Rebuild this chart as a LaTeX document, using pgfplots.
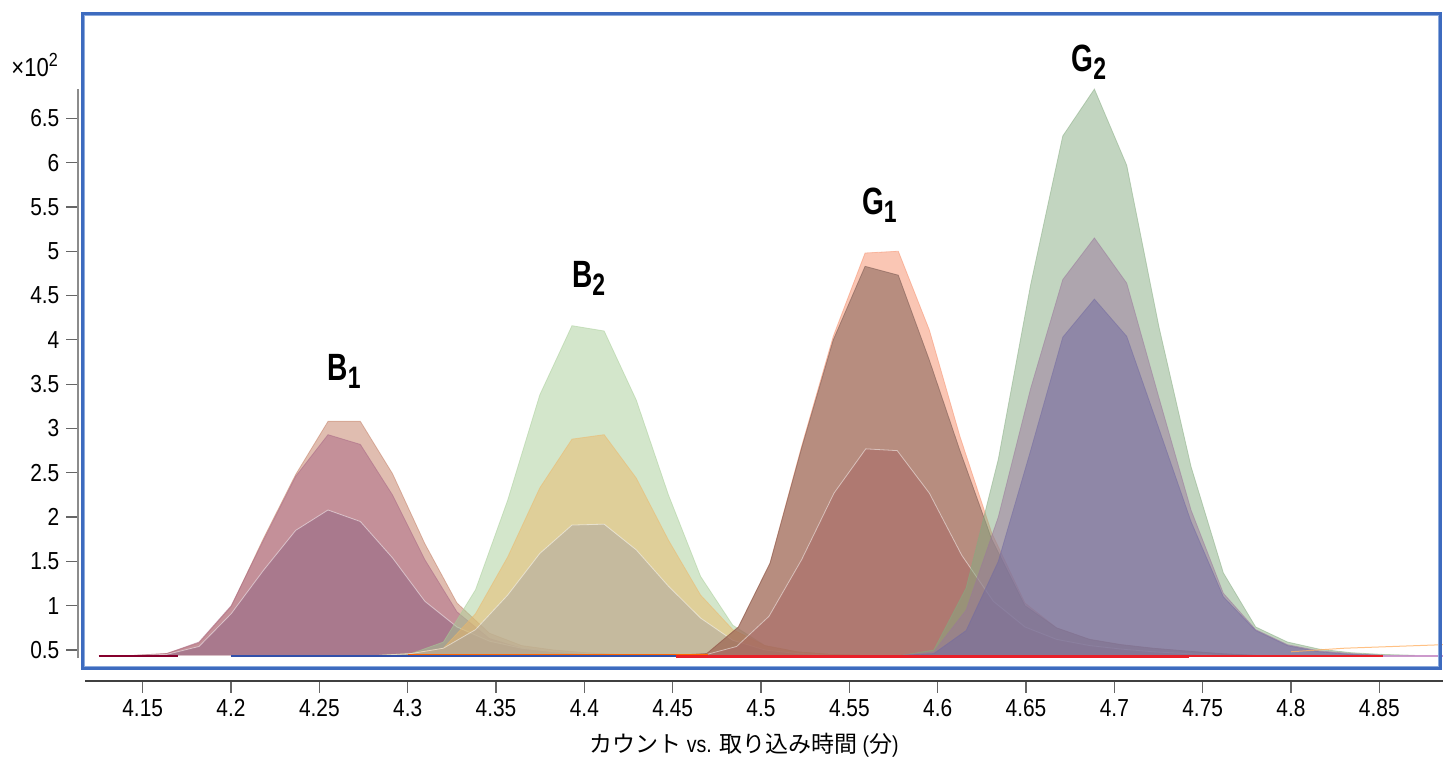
\documentclass[border=0pt]{standalone}
\usepackage{fontspec}
\setmainfont{Liberation Sans}[FakeStretch=0.85]
\newfontfamily\jp{Noto Sans CJK JP}
\newfontfamily\lbl{Liberation Sans Bold}[FakeStretch=0.74]
\usepackage{pgfplots}
\pgfplotsset{compat=1.18}
\definecolor{frameblue}{RGB}{61,107,191}
\definecolor{framelight}{RGB}{140,170,220}
\definecolor{bA}{RGB}{193,123,97}
\definecolor{bB}{RGB}{168,101,132}
\definecolor{bC}{RGB}{144,99,130}
\definecolor{cA}{RGB}{167,205,151}
\definecolor{cB}{RGB}{237,184,105}
\definecolor{cC}{RGB}{172,167,164}
\definecolor{dA}{RGB}{245,141,105}
\definecolor{dB}{RGB}{116,84,76}
\definecolor{dC}{RGB}{169,103,100}
\definecolor{eA}{RGB}{133,171,129}
\definecolor{eB}{RGB}{154,119,156}
\definecolor{eC}{RGB}{114,106,162}
\definecolor{baseRed}{RGB}{232,32,42}
\definecolor{baseBlue}{RGB}{50,80,170}
\newcommand{\pk}[2]{{\lbl\fontsize{19}{19}\selectfont #1\raisebox{-4pt}{\fontsize{15.5}{15.5}\selectfont #2}}}
\begin{document}
\begin{tikzpicture}[x=1pt,y=1pt]
\useasboundingbox (0,0) rectangle (721.5,-380);
\begin{axis}[
  scale only axis, width=679pt, height=284.5pt,
  at={(42.5pt,-329pt)}, anchor=south west,
  xmin=4.11734, xmax=4.88604, ymin=0.4097, ymax=6.8307,
  axis lines*=left,
  axis line style={-},
  axis y line shift=3.5pt,
  axis x line shift=11.5pt,
  x axis line style={draw=black!75, line width=0.6pt},
  y axis line style={draw=black!45, line width=0.8pt},
  xtick={4.15,4.2,4.25,4.3,4.35,4.4,4.45,4.5,4.55,4.6,4.65,4.7,4.75,4.8,4.85},
  ytick={0.5,1,1.5,2,2.5,3,3.5,4,4.5,5,5.5,6,6.5},
  tick align=outside,
  major tick length=5.8pt,
  tick style={black!60, line width=0.6pt},
  ticklabel style={font=\fontsize{12.3}{12.3}\selectfont},
  /pgf/number format/assume math mode=true,
  clip=false,
  every axis plot/.append style={fill opacity=0.5, draw opacity=0.5, line width=0.4pt},
]
% B1
\addplot[fill=bA, draw=bA] coordinates {(4.1453,0.44)(4.1636,0.46)(4.1819,0.58)(4.2001,0.99)(4.2184,1.76)(4.2366,2.48)(4.2549,3.08)(4.2732,3.08)(4.2914,2.49)(4.3097,1.70)(4.3279,1.03)(4.3462,0.69)(4.3645,0.55)(4.3827,0.50)(4.401,0.47)(4.42,0.45)(4.44,0.44)};
\addplot[fill=bB, draw=bB] coordinates {(4.1453,0.44)(4.1636,0.46)(4.1819,0.59)(4.2001,1.00)(4.2184,1.74)(4.2366,2.46)(4.2549,2.93)(4.2732,2.82)(4.2914,2.25)(4.3097,1.52)(4.3279,0.93)(4.3462,0.63)(4.3645,0.52)(4.3827,0.48)(4.401,0.46)(4.42,0.44)};
\addplot[fill=bC, draw=white] coordinates {(4.1453,0.44)(4.1636,0.45)(4.1819,0.54)(4.2001,0.91)(4.2184,1.40)(4.2366,1.85)(4.2549,2.08)(4.2732,1.95)(4.2914,1.54)(4.3097,1.05)(4.3279,0.76)(4.3462,0.60)(4.3645,0.52)(4.3827,0.48)(4.401,0.46)(4.42,0.44)};
% B2
\addplot[fill=cA, draw=cA] coordinates {(4.2838,0.44)(4.302,0.46)(4.3202,0.59)(4.3384,1.18)(4.3566,2.19)(4.3748,3.38)(4.393,4.16)(4.4112,4.10)(4.4294,3.32)(4.4476,2.25)(4.4658,1.33)(4.484,0.78)(4.5022,0.55)(4.5204,0.48)(4.54,0.45)(4.56,0.44)};
\addplot[fill=cB, draw=cB] coordinates {(4.2838,0.44)(4.302,0.46)(4.3202,0.52)(4.3384,0.91)(4.3566,1.55)(4.3748,2.33)(4.393,2.88)(4.4112,2.93)(4.4294,2.44)(4.4476,1.74)(4.4658,1.12)(4.484,0.73)(4.5022,0.55)(4.5204,0.48)(4.54,0.45)(4.56,0.44)};
\addplot[fill=cC, draw=white] coordinates {(4.2838,0.44)(4.302,0.46)(4.3202,0.52)(4.3384,0.73)(4.3566,1.12)(4.3748,1.59)(4.393,1.91)(4.4112,1.92)(4.4294,1.63)(4.4476,1.22)(4.4658,0.86)(4.484,0.61)(4.5022,0.50)(4.5204,0.46)(4.54,0.44)};
% G1
\addplot[fill=dA, draw=dA] coordinates {(4.4514,0.44)(4.4693,0.46)(4.4872,0.76)(4.5051,1.48)(4.5230,2.80)(4.5409,4.04)(4.5589,4.98)(4.5777,5.00)(4.5953,4.11)(4.6126,2.91)(4.6306,1.82)(4.6494,1.03)(4.6673,0.75)(4.686,0.62)(4.704,0.56)(4.722,0.52)(4.74,0.49)(4.76,0.46)(4.78,0.44)};
\addplot[fill=dB, draw=dB] coordinates {(4.4514,0.44)(4.4693,0.46)(4.4872,0.76)(4.5051,1.48)(4.5230,2.78)(4.5409,4.00)(4.5589,4.83)(4.5777,4.73)(4.5953,3.77)(4.6126,2.75)(4.6306,1.75)(4.6494,1.00)(4.6673,0.75)(4.686,0.62)(4.704,0.56)(4.722,0.52)(4.74,0.49)(4.76,0.46)(4.78,0.44)};
\addplot[fill=dC, draw=white] coordinates {(4.4514,0.44)(4.4693,0.45)(4.4862,0.54)(4.5045,0.88)(4.5230,1.52)(4.5413,2.27)(4.5593,2.77)(4.5771,2.75)(4.5953,2.27)(4.6136,1.57)(4.6315,1.05)(4.6494,0.76)(4.6673,0.62)(4.686,0.55)(4.704,0.51)(4.722,0.48)(4.74,0.46)(4.76,0.44)};
% G2
\addplot[fill=eA, draw=eA] coordinates {(4.5796,0.44)(4.5978,0.50)(4.6161,1.20)(4.6343,2.65)(4.6526,4.62)(4.6708,6.30)(4.6887,6.83)(4.707,5.97)(4.7252,4.15)(4.7434,2.57)(4.7617,1.37)(4.78,0.76)(4.798,0.59)(4.816,0.51)(4.834,0.47)(4.852,0.45)(4.87,0.44)};
\addplot[fill=eB, draw=eB] coordinates {(4.5796,0.44)(4.5978,0.48)(4.6161,0.95)(4.6343,2.00)(4.6526,3.45)(4.6708,4.68)(4.6887,5.15)(4.707,4.64)(4.7252,3.35)(4.7434,2.08)(4.7617,1.14)(4.78,0.73)(4.798,0.56)(4.816,0.49)(4.834,0.46)(4.852,0.44)};
\addplot[fill=eC, draw=eC] coordinates {(4.5796,0.44)(4.5978,0.46)(4.6161,0.72)(4.6343,1.50)(4.6526,2.75)(4.6708,4.03)(4.6887,4.46)(4.707,4.04)(4.7252,3.00)(4.7434,1.95)(4.7617,1.10)(4.78,0.72)(4.798,0.55)(4.816,0.48)(4.834,0.45)(4.852,0.44)};
% baselines
\addplot[draw=orange!80!red, draw opacity=1, line width=0.8pt] coordinates {(4.30,0.447)(4.47,0.447)};
\addplot[draw=orange!60, draw opacity=0.8, line width=0.5pt] coordinates {(4.80,0.48)(4.83,0.52)(4.886,0.56)};
\addplot[draw=baseBlue, draw opacity=1, line width=1.1pt] coordinates {(4.20,0.428)(4.452,0.428)};
\addplot[draw=purple!70!black, draw opacity=1, line width=1pt] coordinates {(4.125,0.43)(4.17,0.43)};
\addplot[draw=baseRed, draw opacity=1, line width=1.6pt] coordinates {(4.452,0.425)(4.742,0.425)};
\addplot[draw=baseRed, draw opacity=1, line width=1.1pt] coordinates {(4.742,0.428)(4.852,0.428)};
\addplot[draw=violet!50, draw opacity=0.8, line width=0.8pt] coordinates {(4.852,0.43)(4.886,0.43)};
% peak labels
\node[anchor=base west, inner sep=0pt] at (axis cs:4.2544,3.536) {\pk{B}{1}};
\node[anchor=base west, inner sep=0pt] at (axis cs:4.3928,4.594) {\pk{B}{2}};
\node[anchor=base west, inner sep=0pt] at (axis cs:4.5570,5.41) {\pk{G}{1}};
\node[anchor=base west, inner sep=0pt] at (axis cs:4.6755,7.027) {\pk{G}{2}};
\end{axis}
\draw[line width=1.75pt, color=frameblue] (41.15,-6.65) rectangle (720.25,-334.35);
\draw[line width=0.5pt, color=framelight] (42.4,-7.9) rectangle (719.0,-333.1);
\node[anchor=base west, inner sep=0pt, font=\fontsize{13}{13}\selectfont] at (5.5,-38) {×10\raisebox{5pt}{\fontsize{9.5}{9.5}\selectfont 2}};
\node[inner sep=0pt, font=\fontsize{11.5}{11.5}\selectfont] at (372,-372.5) {{\jp カウント} vs. {\jp 取り込み時間} ({\jp 分})};
\end{tikzpicture}
\end{document}
